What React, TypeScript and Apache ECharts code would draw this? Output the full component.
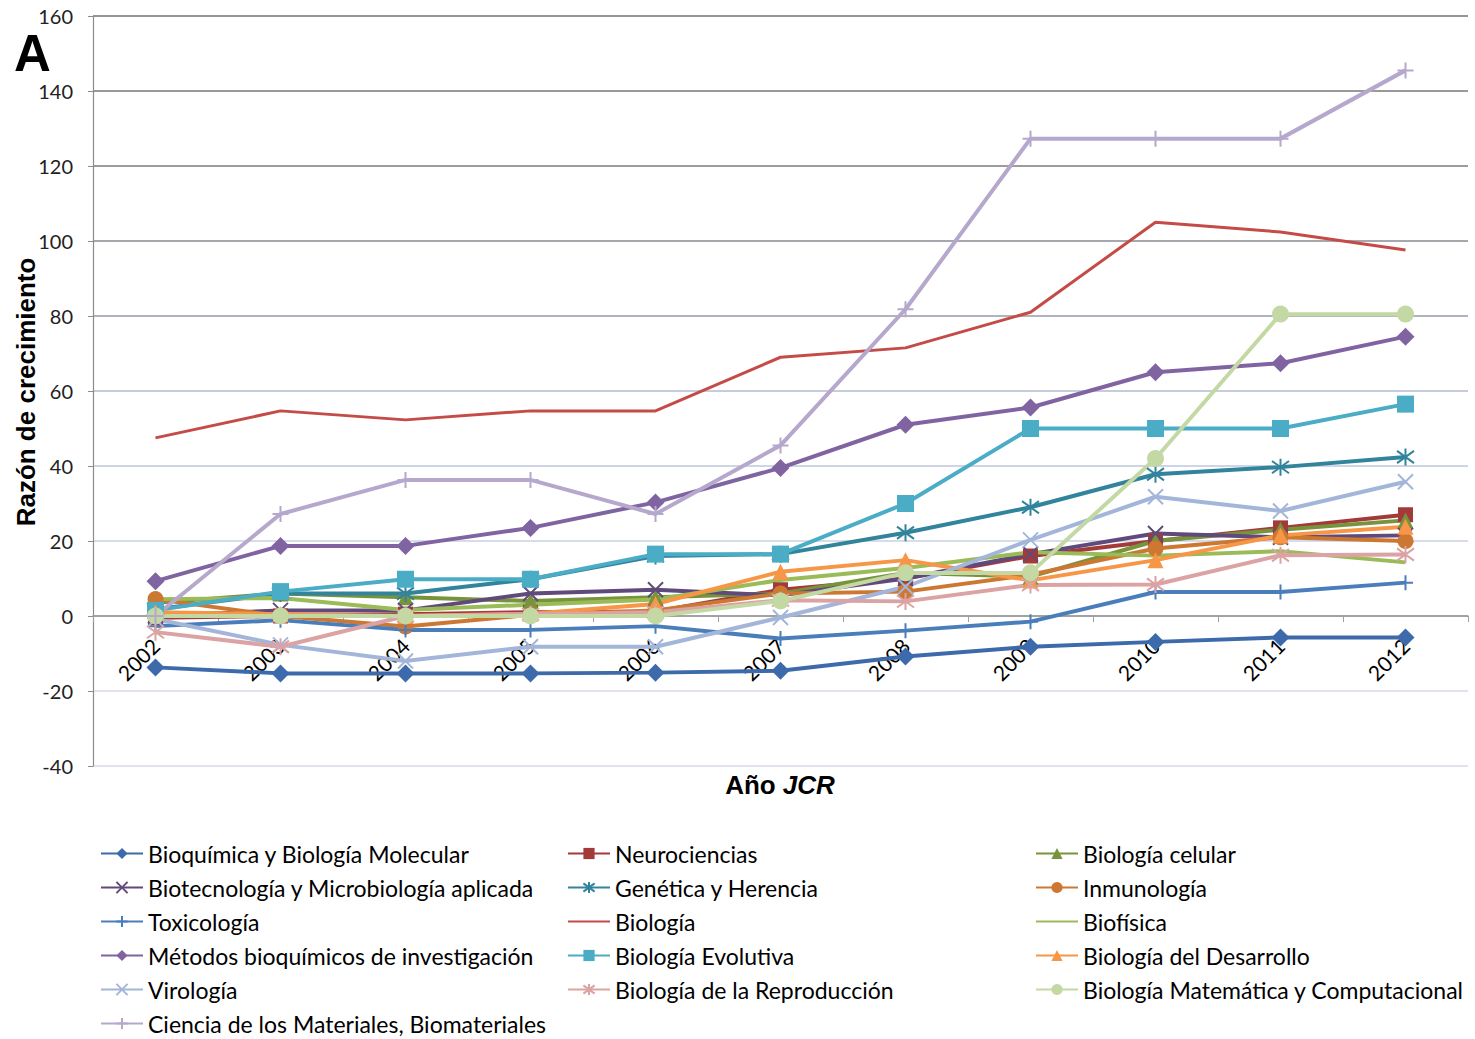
import React, { useEffect, useRef } from "react";
import * as echarts from "echarts";

const years = ["2002", "2003", "2004", "2005", "2006", "2007", "2008", "2009", "2010", "2011", "2012"];
const yTicks = [-40, 160, 20];

const bioquimica = [-13.7, -15.3, -15.3, -15.3, -15.1, -14.6, -10.8, -8.2, -6.9, -5.7, -5.7];
const neurociencias = [-0.5, 0, 0.5, 1, 1.2, 7, 10, 16, 20, 23.5, 27];
const celular = [3.5, 6, 5, 4, 5, 6, 11.5, 10.5, 20, 23, 25.5];
const biotecnologia = [0, 1.5, 1.5, 6, 7, 5.5, 10, 16.5, 22, 21, 21.5];
const genetica = [1.8, 6, 6, 9.8, 16, 16.5, 22.2, 29, 37.8, 39.7, 42.4];
const inmunologia = [4.5, 0, -2.8, 0.3, 1.5, 6, 6.5, 11, 18, 21, 20];
const toxicologia = [-2.7, -1.1, -3.7, -3.7, -2.7, -6, -3.9, -1.5, 6.4, 6.4, 8.9];
const biologia = [47.5, 54.7, 52.3, 54.7, 54.7, 69, 71.5, 81, 105, 102.4, 97.6];
const biofisica = [4.5, 4.8, 1.6, 3, 4.4, 9.6, 12.8, 17, 16.1, 17.3, 14.3];
const metodos = [9.3, 18.7, 18.7, 23.5, 30.3, 39.5, 51, 55.6, 65, 67.4, 74.5];
const evolutiva = [1.5, 6.5, 9.8, 9.8, 16.5, 16.5, 30, 50, 50, 50, 56.5];
const desarrollo = [1, 0.5, 0, 0.6, 3.2, 11.8, 14.9, 9.5, 14.9, 21.5, 23.8];
const virologia = [-0.8, -7.7, -12, -8.2, -8.2, -0.4, 7.8, 20.3, 31.8, 28, 35.8];
const reproduccion = [-4.3, -8.2, 0, 0.5, 1, 4.2, 3.9, 8.3, 8.4, 16.2, 16.4];
const matematica = [0, 0, 0, 0, 0, 4, 11.5, 11.5, 42, 80.5, 80.5];
const materiales = [0, 27.2, 36.3, 36.3, 27.2, 45.5, 81.8, 127.3, 127.3, 127.3, 145.5];

const yAxisTitle = "Razón de crecimiento";

const symX = "path://M1,1L9,9M9,1L1,9";
const symAst = "path://M1,1L9,9M9,1L1,9M5,-0.5L5,10.5";
const symPlus = "path://M5,0L5,10M0,5L10,5";

type S = { name: string; data: number[]; color: string; symbol: string; size: number; stroke?: boolean; width?: number };

const seriesDefs: S[] = [
  { name: "Bioquímica y Biología Molecular", data: bioquimica, color: "#3C6AAA", symbol: "diamond", size: 18 },
  { name: "Neurociencias", data: neurociencias, color: "#A33A3A", symbol: "rect", size: 15 },
  { name: "Biología celular", data: celular, color: "#77933C", symbol: "triangle", size: 16 },
  { name: "Biotecnología y Microbiología aplicada", data: biotecnologia, color: "#604A7B", symbol: symX, size: 15, stroke: true },
  { name: "Genética y Herencia", data: genetica, color: "#31849B", symbol: symAst, size: 17, stroke: true },
  { name: "Inmunología", data: inmunologia, color: "#CC7833", symbol: "circle", size: 16 },
  { name: "Toxicología", data: toxicologia, color: "#4A7EBB", symbol: symPlus, size: 15, stroke: true },
  { name: "Biología", data: biologia, color: "#C44B47", symbol: "none", size: 0, width: 3 },
  { name: "Biofísica", data: biofisica, color: "#9BBB59", symbol: "none", size: 0 },
  { name: "Métodos bioquímicos de investigación", data: metodos, color: "#8064A2", symbol: "diamond", size: 18 },
  { name: "Biología Evolutiva", data: evolutiva, color: "#4BACC6", symbol: "rect", size: 17 },
  { name: "Biología del Desarrollo", data: desarrollo, color: "#F79646", symbol: "triangle", size: 16 },
  { name: "Virología", data: virologia, color: "#A3B6DA", symbol: symX, size: 15, stroke: true },
  { name: "Biología de la Reproducción", data: reproduccion, color: "#DBA3A3", symbol: symAst, size: 17, stroke: true },
  { name: "Biología Matemática y Computacional", data: matematica, color: "#C4D8A4", symbol: "circle", size: 17 },
  { name: "Ciencia de los Materiales, Biomateriales", data: materiales, color: "#B5A8CC", symbol: symPlus, size: 16, stroke: true },
];

const legendCols = [
  [0, 3, 6, 9, 12, 15],
  [1, 4, 7, 10, 13],
  [2, 5, 8, 11, 14],
];
const legendLefts = [100, 567, 1035];

const FONT = "Lato";

export default function App() {
  const ref = useRef<HTMLDivElement>(null);
  useEffect(() => {
    if (!ref.current) return;
    const chart = echarts.init(ref.current, undefined, { renderer: "svg" });
    const gridColors = ["#dfe4ee", "#dfe4ee", "#a6a6a6", "#d6dcea", "#ced5e4", "#c6ccdc", "#b0b4be", "#a6a8ae", "#9c9c9c", "#999999", "#959595"];
    chart.setOption({
      animation: false,
      backgroundColor: "#ffffff",
      grid: { left: 93, top: 16, width: 1375, height: 750, containLabel: false, outerBoundsMode: "none" },
      xAxis: {
        type: "category",
        data: years,
        boundaryGap: true,
        offset: -150,
        axisLine: { onZero: false, lineStyle: { color: "#a0a0a0", width: 1.5 } },
        axisTick: { show: true, length: 6, lineStyle: { color: "#a0a0a0" } },
        axisLabel: { rotate: 45, fontSize: 21, color: "#000", fontFamily: FONT, margin: 26 },
        splitLine: { show: false },
      },
      yAxis: {
        type: "value",
        min: yTicks[0],
        max: yTicks[1],
        interval: yTicks[2],
        axisLine: { show: true, lineStyle: { color: "#8c8c8c", width: 1.2 } },
        axisTick: { show: true, length: 5, lineStyle: { color: "#8c8c8c" } },
        axisLabel: { fontSize: 20, color: "#222", fontFamily: FONT, margin: 20 },
        splitLine: { show: true, lineStyle: { color: gridColors, width: 2 } },
      },
      legend: legendCols.map((col, i) => ({
        orient: "vertical",
        left: legendLefts[i],
        top: 842,
        padding: 0,
        itemWidth: 42,
        itemHeight: 14,
        itemGap: 11,
        selectedMode: false,
        textStyle: { fontSize: 23, color: "#000", fontFamily: FONT },
        data: col.map((k) =>
          seriesDefs[k].symbol === "none"
            ? { name: seriesDefs[k].name, itemStyle: { color: "rgba(0,0,0,0)", borderWidth: 0, opacity: 0 } }
            : seriesDefs[k].name
        ),
      })),
      graphic: [
        {
          type: "text",
          x: 14,
          y: 53,
          style: { text: "A", fontSize: 51, fontWeight: "bold", fontFamily: "Liberation Sans", fill: "#000", verticalAlign: "middle" },
        },
        {
          type: "text",
          x: 26,
          y: 392,
          rotation: Math.PI / 2,
          style: {
            text: yAxisTitle,
            align: "center",
            verticalAlign: "middle",
            fontSize: 26,
            fontWeight: "bold",
            fontFamily: "Liberation Sans",
            fill: "#000",
          },
        },
        {
          type: "text",
          x: 780,
          y: 785,
          style: {
            text: "{a|Año }{b|JCR}",
            align: "center",
            verticalAlign: "middle",
            rich: {
              a: { fontSize: 26, fontWeight: "bold", fontFamily: "Liberation Sans", fill: "#000" },
              b: { fontSize: 26, fontWeight: "bold", fontStyle: "italic", fontFamily: "Liberation Sans", fill: "#000" },
            },
          },
        },
      ],
      series: seriesDefs.map((s) => ({
        type: "line",
        name: s.name,
        data: s.data,
        symbol: s.symbol,
        symbolSize: s.size,
        showSymbol: s.symbol !== "none",
        lineStyle: { color: s.color, width: s.width ?? 4 },
        itemStyle: s.stroke
          ? { color: s.color, borderColor: s.color, borderWidth: 2 }
          : { color: s.color, borderWidth: 0 },
        emphasis: { disabled: true },
        z: 2,
      })),
    });
    return () => chart.dispose();
  }, []);
  return <div ref={ref} style={{ position: "absolute", left: 0, top: 0, width: 1475, height: 1039 }} />;
}
